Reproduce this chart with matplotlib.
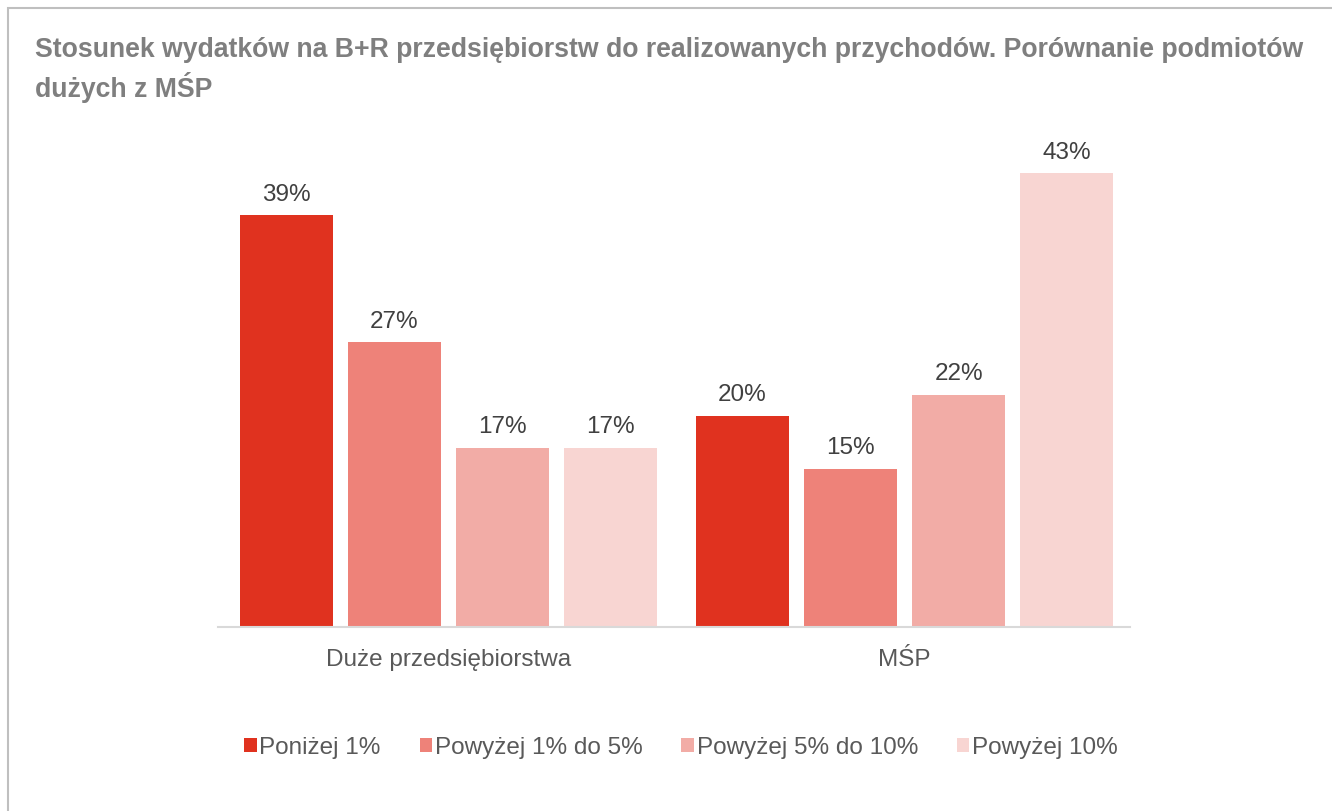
import numpy as np
import matplotlib.pyplot as plt
from matplotlib.patches import Rectangle, Patch

plt.rcParams['font.family'] = ['Liberation Sans', 'DejaVu Sans']

# share of companies by R&D spend / revenue ratio
groups = ['Duże przedsiębiorstwa', 'MŚP']
series = ['Poniżej 1%', 'Powyżej 1% do 5%', 'Powyżej 5% do 10%', 'Powyżej 10%']
values = {
    'Poniżej 1%': [39, 20],
    'Powyżej 1% do 5%': [27, 15],
    'Powyżej 5% do 10%': [17, 22],
    'Powyżej 10%': [17, 43],
}
colors = ['#E0321F', '#EE8279', '#F2ACA6', '#F8D5D2']

fig = plt.figure(figsize=(13.32, 8.11), dpi=100)
fig.patches.append(Rectangle((8 / 1332, -0.1), 1.2, 1.1 - 8 / 811, transform=fig.transFigure,
                             fill=False, edgecolor='#BFBFBF', linewidth=1.5))

fig.text(35 / 1332, 1 - 70 / 811, 'Stosunek wydatków na B+R przedsiębiorstw do realizowanych przychodów. '
         'Porównanie podmiotów\ndużych z MŚP', fontsize=19.2, fontweight='bold', color='#7F7F7F',
         va='center', ha='left', linespacing=1.35)

ax = fig.add_axes([218 / 1332, 1 - 627 / 811, (1130 - 218) / 1332, (627 - 152) / 811])
x = np.arange(len(groups))
width = 93 / 456
step = 108 / 456
for i, (name, c) in enumerate(zip(series, colors)):
    pos = x + (i - 1.5) * step
    bars = ax.bar(pos, values[name], width=width, color=c, label=name)
    for b, v in zip(bars, values[name]):
        ax.text(b.get_x() + b.get_width() / 2, v + 0.9, f'{v}%', ha='center', va='bottom',
                fontsize=17.5, color='#404040')

ax.set_xlim(-0.505, 1.494)
ax.set_ylim(0, 45)
ax.set_yticks([])
ax.set_xticks(x)
ax.set_xticklabels(groups, fontsize=17.5, color='#595959')
ax.tick_params(axis='x', length=0, pad=16)
for s in ['top', 'right', 'left']:
    ax.spines[s].set_visible(False)
ax.spines['bottom'].set_color('#D9D9D9')
ax.spines['bottom'].set_linewidth(1.5)

handles = [Patch(facecolor=c, label=n) for n, c in zip(series, colors)]
fig.legend(handles=handles, loc='center', bbox_to_anchor=(681 / 1332, 1 - 748 / 811), ncol=4,
           frameon=False, fontsize=17.5, handlelength=0.5, handleheight=0.5, handletextpad=0.12,
           columnspacing=1.6, labelcolor='#595959')

fig.savefig('out.png', dpi=100)
